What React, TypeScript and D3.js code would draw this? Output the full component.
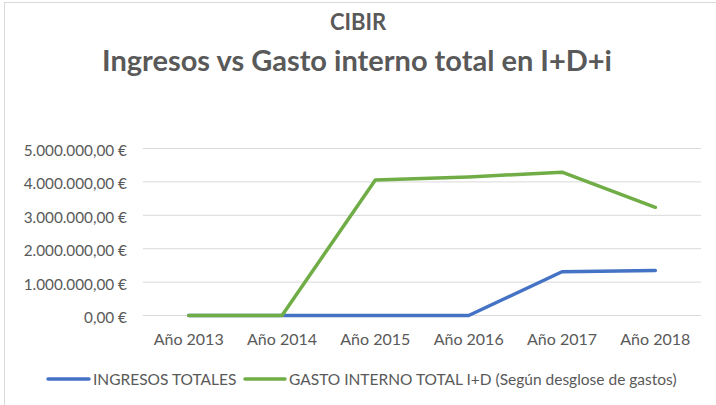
import { useMemo } from "react";
import * as d3 from "d3";

const years = ["Año 2013", "Año 2014", "Año 2015", "Año 2016", "Año 2017", "Año 2018"];
const ingresos = [0, 0, 0, 0, 1310000, 1350000];
const gasto = [0, 0, 4060000, 4150000, 4290000, 3240000];
const yTicks = [0, 1000000, 2000000, 3000000, 4000000, 5000000];
const seriesNames = ["INGRESOS TOTALES", "GASTO INTERNO TOTAL I+D (Según desglose de gastos)"];
const seriesColors = ["#4472C4", "#70AD47"];

const W = 716;
const H = 405;
const PLOT = { left: 142, right: 702, top: 148.5, bottom: 315.5 };
const FONT = "Lato, 'Open Sans', sans-serif";
const TEXT = "#595959";

const esLocale = d3.formatLocale({
  decimal: ",",
  thousands: ".",
  grouping: [3],
  currency: ["", " €"],
});
const fmt = esLocale.format(",.2f");

export default function App() {
  const x = useMemo(
    () => d3.scaleBand().domain(years).range([PLOT.left, PLOT.right]),
    []
  );
  const y = useMemo(
    () => d3.scaleLinear().domain([0, 5000000]).range([PLOT.bottom, PLOT.top]),
    []
  );
  const cx = (d: string) => (x(d) ?? 0) + x.bandwidth() / 2;

  const line = d3
    .line<number>()
    .x((_, i) => cx(years[i]))
    .y((v) => y(v));

  const series = [ingresos, gasto];

  // legend layout
  const legendY = 379;
  const legend = [
    { x1: 48, x2: 89, tx: 93 },
    { x1: 245, x2: 285, tx: 289 },
  ];

  return (
    <div style={{ position: "absolute", left: 0, top: 0 }}>
      <svg width={W} height={H} style={{ display: "block", background: "#fff" }}>
        <rect x={4.5} y={2.5} width={W + 10} height={H + 10} fill="#fff" stroke="#D9D9D9" />

        <text x={358} y={30} textAnchor="middle" fontFamily={FONT} fontSize={22} fontWeight={700} fill={TEXT}>
          CIBIR
        </text>
        <text x={357} y={71} textAnchor="middle" fontFamily={FONT} fontSize={29} fontWeight={700} fill={TEXT}>
          Ingresos vs Gasto interno total en I+D+i
        </text>

        {yTicks.map((t) => (
          <g key={t}>
            <line x1={143} x2={701} y1={y(t)} y2={y(t)} stroke="#D9D9D9" strokeWidth={1} />
            <text
              x={127}
              y={y(t) + 1.5}
              textAnchor="end"
              dominantBaseline="central"
              fontFamily={FONT}
              fontSize={15.3}
              fill={TEXT}
            >
              {fmt(t) + " €"}
            </text>
          </g>
        ))}

        {years.map((yr) => (
          <text
            key={yr}
            x={cx(yr)}
            y={338}
            textAnchor="middle"
            dominantBaseline="central"
            fontFamily={FONT}
            fontSize={16}
            fill={TEXT}
          >
            {yr}
          </text>
        ))}

        {series.map((s, i) => (
          <path
            key={i}
            d={line(s) ?? ""}
            fill="none"
            stroke={seriesColors[i]}
            strokeWidth={3.5}
            strokeLinejoin="round"
            strokeLinecap="round"
          />
        ))}

        {legend.map((l, i) => (
          <g key={i}>
            <line x1={l.x1} x2={l.x2} y1={legendY} y2={legendY} stroke={seriesColors[i]} strokeWidth={3.5} strokeLinecap="round" />
            <text x={l.tx} y={legendY} dominantBaseline="central" fontFamily={FONT} fontSize={15.5} fill={TEXT}>
              {seriesNames[i]}
            </text>
          </g>
        ))}
      </svg>
    </div>
  );
}
